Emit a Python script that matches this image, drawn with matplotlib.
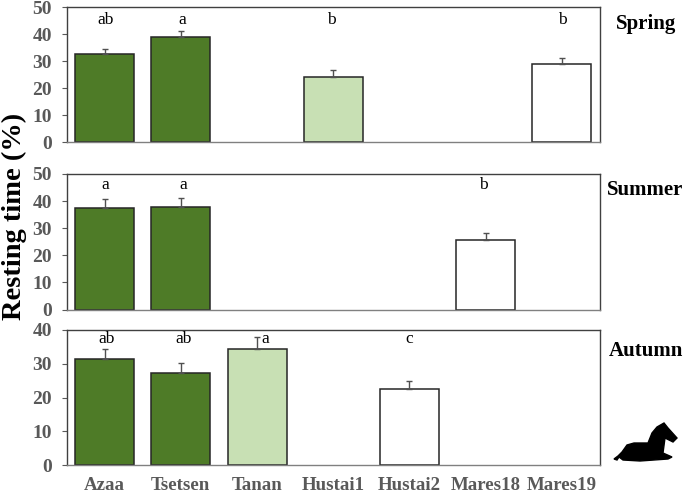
import matplotlib.pyplot as plt
from matplotlib.patches import Polygon

plt.rcParams['font.family'] = ['Liberation Serif', 'DejaVu Serif']

sites = ['Azaa', 'Tsetsen', 'Tanan', 'Hustai1', 'Hustai2', 'Mares18', 'Mares19']
dark = '#4e7b27'
light = '#c8e0b4'
white = '#ffffff'
grey = '#595959'

# spring
spring_pos = [0, 1, 3, 6]
spring_val = [32.5, 38.9, 24, 28.8]
spring_err = [1.8, 2.2, 2.7, 2.2]
spring_col = [dark, dark, light, white]
spring_let = ['ab', 'a', 'b', 'b']

# summer
summer_pos = [0, 1, 5]
summer_val = [37.4, 38, 25.8]
summer_err = [3.2, 3, 2.5]
summer_col = [dark, dark, white]
summer_let = ['a', 'a', 'b']

# autumn
autumn_pos = [0, 1, 2, 4]
autumn_val = [31.3, 27.3, 34.5, 22.4]
autumn_err = [3.2, 3, 3.3, 2.6]
autumn_col = [dark, dark, light, white]
autumn_let = ['ab', 'ab', 'a', 'c']

# lying horse outline, figure pixels
horse = [(614, 459), (618, 456), (622, 452), (627, 445), (634, 443), (648, 443), (652, 433),
         (657, 427), (664, 423), (668, 428), (677, 438), (673, 442), (665, 438), (663, 453),
         (672, 457), (668, 459), (640, 461), (623, 460), (619, 457), (617, 460)]

W, H = 685, 495
fig = plt.figure(figsize=(W / 100, H / 100), dpi=100)


def make_panel(top, bottom, pos, val, err, col, let, ymax, season, season_x, season_y, let_y, let_dx):
    ax = fig.add_axes([66.5 / W, 1 - bottom / H, (600 - 66.5) / W, (bottom - top) / H])
    ax.bar(pos, val, width=0.774, color=col, edgecolor='#262626', linewidth=1.1)
    ax.errorbar(pos, val, yerr=[[0] * len(err), err], fmt='none', ecolor='#505050',
                elinewidth=1, capsize=2, capthick=1)
    for p, t, d in zip(pos, let, let_dx):
        ax.text(p + d, let_y, t, ha='center', va='center', fontsize=12.5)
    ax.set_xlim(-0.5, 6.5)
    ax.set_ylim(0, ymax)
    ax.set_yticks(range(0, ymax + 1, 10))
    ax.tick_params(axis='y', labelsize=14, length=3.6, width=0.8, pad=7, color=grey, labelcolor=grey)
    ax.tick_params(axis='x', length=0)
    for lab in ax.get_yticklabels():
        lab.set_fontweight('bold')
    ax.set_xticks(range(len(sites)))
    ax.set_xticklabels([])
    for s in ax.spines.values():
        s.set_linewidth(1)
        s.set_color('#404040')
    ax.spines['bottom'].set_color('#808080')
    fig.text(season_x / W, 1 - season_y / H, season, fontsize=15, fontweight='bold',
             ha='left', va='center')
    return ax


make_panel(7, 142, spring_pos, spring_val, spring_err, spring_col, spring_let, 50,
           'Spring', 616, 24, 45.2, [0.01, 0.025, -0.02, 0])
make_panel(174, 309.5, summer_pos, summer_val, summer_err, summer_col, summer_let, 50,
           'Summer', 607, 190, 46, [0.01, 0.03, -0.03])
ax = make_panel(330, 465, autumn_pos, autumn_val, autumn_err, autumn_col, autumn_let, 40,
                'Autumn', 609, 351, 37.3, [0.02, 0.04, 0.11, 0])

ax.set_xticklabels(sites, fontsize=13.6, fontweight='bold', color=grey)
ax.tick_params(axis='x', pad=9)

fig.text(14 / W, 1 - 216 / H, 'Resting time (%)', rotation=90, fontsize=20.5, fontweight='bold',
         ha='center', va='center')

fig.add_artist(Polygon([(x / W, 1 - y / H) for x, y in horse], closed=True, color='black',
                       transform=fig.transFigure))

plt.savefig('out.png', dpi=100)
